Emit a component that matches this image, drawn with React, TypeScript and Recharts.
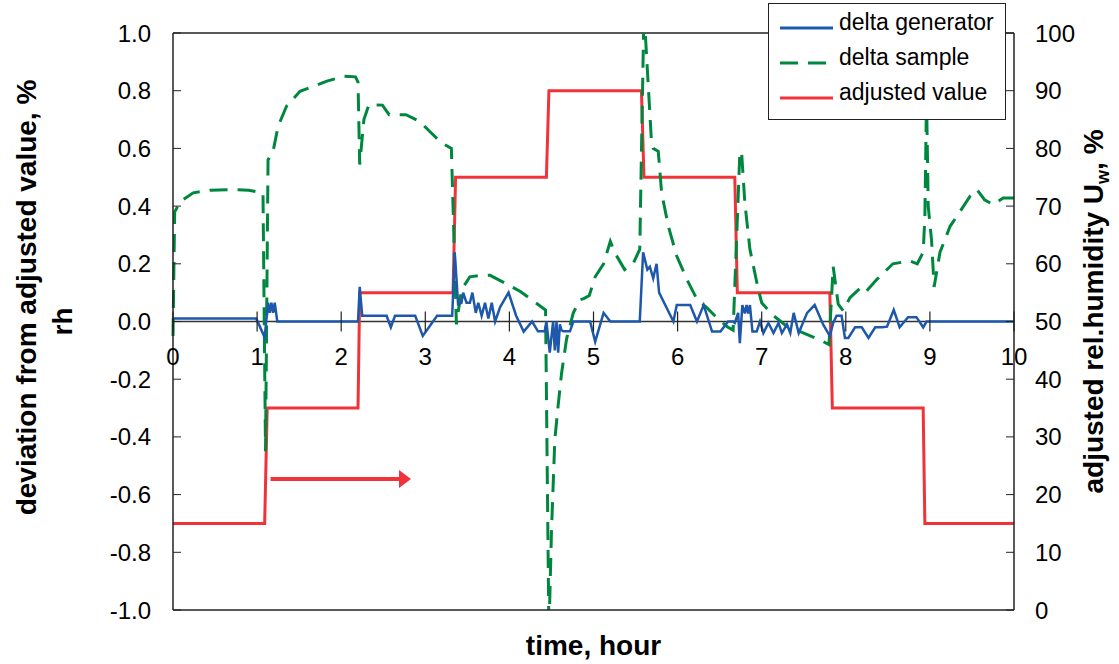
import {
  LineChart,
  Line,
  XAxis,
  YAxis,
  ReferenceLine,
  ReferenceDot,
  Legend,
} from 'recharts';

const FONT = '"Liberation Sans", Arial, Helvetica, sans-serif';

const BLUE = '#1d58aa';
const GREEN = '#00873e';
const RED = '#ef3338';
const AXIS = '#222';

// delta generator (left axis, % rh)
const generatorTime = [
  0, 0.99, 1.09, 1.13, 1.15, 1.17, 1.19, 1.21, 1.24, 2.2, 2.22, 2.25, 2.54, 2.59, 2.64, 2.88,
  2.97, 3.14, 3.32, 3.35, 3.39, 3.43, 3.45, 3.49, 3.53, 3.56, 3.6, 3.63, 3.67, 3.71, 3.75, 3.79,
  3.83, 3.89, 3.99, 4.08, 4.17, 4.27, 4.34, 4.42, 4.44, 4.48, 4.52, 4.54, 4.56, 4.58, 4.6, 4.62,
  4.64, 4.72, 4.76, 4.96, 5.02, 5.12, 5.2, 5.55, 5.59, 5.64, 5.67, 5.71, 5.75, 5.78, 5.95, 5.99,
  6.15, 6.23, 6.31, 6.41, 6.51, 6.6, 6.66, 6.68, 6.72, 6.74, 6.77, 6.8, 6.82, 6.84, 6.86, 6.89,
  6.94, 6.98, 7.02, 7.08, 7.14, 7.2, 7.24, 7.3, 7.34, 7.38, 7.44, 7.54, 7.63, 7.73, 7.81, 7.85,
  7.89, 7.95, 7.99, 8.03, 8.11, 8.19, 8.27, 8.35, 8.43, 8.49, 8.57, 8.64, 8.74, 8.84, 8.92, 8.96,
  10,
];
const generatorDelta = [
  0.01, 0.01, -0.055, 0.065, 0.03, 0.065, 0.03, 0.065, 0, 0, 0.12, 0.02, 0.02, -0.02, 0.02, 0.02,
  -0.05, 0.02, 0.02, 0.24, 0.06, 0.065, 0.1, 0.065, 0.065, 0.1, 0.03, 0.065, 0.02, 0.065, 0.01, 0.065,
  0, 0.05, 0.1, 0.02, -0.035, 0, -0.034, -0.034, 0, -0.108, 0, -0.1, 0, -0.108, -0.01, -0.03,
  -0.034, -0.034, 0, 0, -0.07, 0.03, 0, 0, 0.24, 0.18, 0.19, 0.15, 0.2, 0.1, 0, 0.057,
  0.057, 0, 0.057, -0.035, -0.035, 0, 0, -0.005, 0.03, -0.075, 0.057, 0.028, 0.057, 0.028, 0.057, -0.035,
  -0.035, 0, -0.04, -0.005, -0.04, -0.005, -0.04, -0.01, -0.04, 0.03, -0.04, 0.03, 0.057, -0.01, -0.05, -0.005,
  0.02, 0.02, -0.057, -0.057, -0.02, -0.02, -0.057, -0.02, -0.02, -0.018, 0.04, -0.02, 0.015, 0.015, -0.02, 0,
  0,
];

// delta sample (left axis, % rh)
const sampleTime = [
  0, 0.02, 0.09, 0.24, 0.44, 0.72, 0.9, 1.07, 1.1, 1.13, 1.19, 1.25, 1.35, 1.51, 1.67, 1.83,
  2.03, 2.17, 2.2, 2.22, 2.27, 2.33, 2.49, 2.57, 2.77, 2.93, 3.09, 3.19, 3.31, 3.37, 3.43, 3.53,
  3.65, 3.77, 3.97, 4.13, 4.29, 4.43, 4.47, 4.5, 4.54, 4.58, 4.62, 4.68, 4.76, 4.84, 4.89, 4.95,
  5.02, 5.12, 5.2, 5.25, 5.37, 5.47, 5.55, 5.6, 5.69, 5.71, 5.77, 5.81, 5.89, 5.99, 6.11, 6.23,
  6.35, 6.47, 6.59, 6.66, 6.68, 6.74, 6.76, 6.8, 6.86, 6.96, 7.0, 7.12, 7.3, 7.5, 7.7, 7.8,
  7.85, 7.91, 7.97, 8.05, 8.17, 8.23, 8.37, 8.56, 8.76, 8.85, 8.92, 8.94, 8.96, 8.98, 9.02, 9.05,
  9.12, 9.24, 9.36, 9.48, 9.56, 9.65, 9.75, 9.87, 10,
];
const sampleDelta = [
  -0.05, 0.38, 0.417, 0.446, 0.455, 0.457, 0.455, 0.446, -0.45, 0.56, 0.59, 0.677, 0.746, 0.798, 0.815, 0.833,
  0.85, 0.848, 0.83, 0.544, 0.7, 0.752, 0.75, 0.717, 0.717, 0.694, 0.648, 0.62, 0.6, -0.01, 0.11, 0.155,
  0.16, 0.16, 0.13, 0.104, 0.07, 0.04, -1.08, -0.73, -0.41, -0.29, -0.18, -0.06, 0.03, 0.075, 0.08, 0.09,
  0.155, 0.2, 0.278, 0.24, 0.18, 0.2, 0.25, 1.08, 0.62, 0.6, 0.59, 0.446, 0.33, 0.227, 0.146, 0.077,
  0.047, 0.012, -0.018, -0.03, 0.12, 0.585, 0.59, 0.41, 0.25, 0.11, 0.065, 0.025, -0.017, -0.04, -0.065, -0.08,
  0.19, 0.06, 0.037, 0.083, 0.115, 0.1, 0.146, 0.2, 0.21, 0.2, 0.24, 0.36, 0.78, 0.4, 0.28, 0.12,
  0.24, 0.33, 0.382, 0.435, 0.457, 0.422, 0.405, 0.428, 0.428,
];

// adjusted value (right axis, % rh)
const adjustedTime = [
  0, 1.09, 1.12, 2.2, 2.22, 3.33, 3.36, 4.44, 4.47, 5.57, 5.6, 6.68, 6.71, 7.81, 7.84, 8.92, 8.94, 10,
];
const adjustedValue = [15, 15, 35, 35, 55, 55, 75, 75, 90, 90, 75, 75, 55, 55, 35, 35, 15, 15];

const hourTicks = [0, 1, 2, 3, 4, 5, 6, 7, 8, 9, 10];
const deviationTicks = [-1, -0.8, -0.6, -0.4, -0.2, 0, 0.2, 0.4, 0.6, 0.8, 1];
const humidityTicks = [0, 10, 20, 30, 40, 50, 60, 70, 80, 90, 100];

// arrow pointing to the right axis
const arrowHours = [1.16, 2.83];
const arrowHumidity = 22.7;

const legendItems = [
  { name: 'delta generator', color: BLUE, dash: undefined },
  { name: 'delta sample', color: GREEN, dash: '18 10' },
  { name: 'adjusted value', color: RED, dash: undefined },
];

const zip = (ts: number[], vs: number[]) => ts.map((t, i) => ({ t, v: vs[i] }));

function LeftTitle(props: any) {
  const vb = props.viewBox;
  const cy = vb.y + vb.height / 2;
  const x1 = vb.x + 36;
  const x2 = vb.x + 72;
  return (
    <g fontFamily={FONT} fontSize={28} fontWeight="bold" fill="#000">
      <text x={x1} y={cy - 24} textAnchor="middle" transform={`rotate(-90 ${x1} ${cy - 24})`}>
        deviation from adjusted value, %
      </text>
      <text x={x2} y={cy} textAnchor="middle" transform={`rotate(-90 ${x2} ${cy})`}>
        rh
      </text>
    </g>
  );
}

function RightTitle(props: any) {
  const vb = props.viewBox;
  const cy = vb.y + vb.height / 2 - 10;
  const x = vb.x + 89;
  return (
    <text
      x={x}
      y={cy}
      textAnchor="middle"
      transform={`rotate(-90 ${x} ${cy})`}
      fontFamily={FONT}
      fontSize={28}
      fontWeight="bold"
      fill="#000"
    >
      adjusted rel.humidity U
      <tspan fontSize={18} dy={6}>w</tspan>
      <tspan dy={-6}>, %</tspan>
    </text>
  );
}

function BottomTitle(props: any) {
  const vb = props.viewBox;
  return (
    <text
      x={vb.x + vb.width / 2}
      y={vb.y + 45}
      textAnchor="middle"
      fontFamily={FONT}
      fontSize={28}
      fontWeight="bold"
      fill="#000"
    >
      time, hour
    </text>
  );
}

function HourTick({ cx, cy, label }: any) {
  if (cx == null || cy == null) return null;
  return (
    <g>
      <line x1={cx} x2={cx} y1={cy - 10} y2={cy + 10} stroke={AXIS} strokeWidth={1.2} />
      <text x={cx} y={cy + 43} textAnchor="middle" fontFamily={FONT} fontSize={24} fill="#000">
        {label}
      </text>
    </g>
  );
}

function Arrow(props: any) {
  const { x1, y1, x2 } = props;
  if (x1 == null) return null;
  return (
    <g>
      <line x1={x1} x2={x2 - 10} y1={y1} y2={y1} stroke={RED} strokeWidth={4} />
      <polygon points={`${x2 - 12},${y1 - 9} ${x2},${y1} ${x2 - 12},${y1 + 9}`} fill={RED} />
    </g>
  );
}

function LegendBox() {
  return (
    <svg width={238} height={117} style={{ display: 'block' }}>
      <rect x={0.5} y={0.5} width={237} height={116} fill="#fff" stroke={AXIS} />
      {legendItems.map((s, i) => (
        <g key={s.name}>
          <line
            x1={12}
            x2={65}
            y1={25 + i * 35}
            y2={25 + i * 35}
            stroke={s.color}
            strokeWidth={3}
            strokeDasharray={s.dash}
          />
          <text x={71} y={27 + i * 35} fontFamily={FONT} fontSize={23} fill="#000">
            {s.name}
          </text>
        </g>
      ))}
    </svg>
  );
}

export default function App() {
  const generator = zip(generatorTime, generatorDelta);
  const sample = zip(sampleTime, sampleDelta);
  const adjusted = zip(adjustedTime, adjustedValue);

  return (
    <div style={{ position: 'absolute', left: 0, top: 0, background: '#fff' }}>
      <LineChart width={1119} height={664} margin={{ top: 33, right: 0, bottom: 0, left: 0 }}>
        <XAxis
          dataKey="t"
          type="number"
          domain={[0, 10]}
          ticks={hourTicks}
          tick={false}
          tickLine={false}
          axisLine={{ stroke: AXIS, strokeWidth: 1.5 }}
          height={54}
          label={(p: any) => <BottomTitle {...p} />}
        />
        <YAxis
          yAxisId="left"
          orientation="left"
          width={173}
          domain={[-1, 1]}
          allowDataOverflow
          ticks={deviationTicks}
          interval={0}
          tickFormatter={(v: number) => v.toFixed(1)}
          tickSize={-8}
          tickMargin={30}
          tick={{ fontSize: 24, fill: '#000', fontFamily: FONT }}
          tickLine={{ stroke: AXIS }}
          axisLine={{ stroke: AXIS, strokeWidth: 1.5 }}
          label={(p: any) => <LeftTitle {...p} />}
        />
        <YAxis
          yAxisId="right"
          orientation="right"
          width={105}
          domain={[0, 100]}
          ticks={humidityTicks}
          interval={0}
          tickSize={-8}
          tickMargin={29}
          tick={{ fontSize: 24, fill: '#000', fontFamily: FONT }}
          tickLine={{ stroke: AXIS }}
          axisLine={{ stroke: AXIS, strokeWidth: 1.5 }}
          label={(p: any) => <RightTitle {...p} />}
        />
        <ReferenceLine yAxisId="left" y={1} stroke={AXIS} strokeWidth={1.5} />
        <ReferenceLine yAxisId="left" y={0} stroke="#333" strokeWidth={1.5} />
        {hourTicks.map((h) => (
          <ReferenceDot
            key={h}
            yAxisId="left"
            x={h}
            y={0}
            r={0}
            ifOverflow="visible"
            shape={(p: any) => <HourTick {...p} label={h} />}
          />
        ))}
        <ReferenceLine
          yAxisId="right"
          segment={[
            { x: arrowHours[0], y: arrowHumidity },
            { x: arrowHours[1], y: arrowHumidity },
          ]}
          ifOverflow="visible"
          shape={(p: any) => <Arrow {...p} />}
        />
        <Line
          yAxisId="right"
          data={adjusted}
          dataKey="v"
          name="adjusted value"
          type="linear"
          stroke={RED}
          strokeWidth={3}
          dot={false}
          isAnimationActive={false}
        />
        <Line
          yAxisId="left"
          data={sample}
          dataKey="v"
          name="delta sample"
          type="linear"
          stroke={GREEN}
          strokeWidth={3}
          strokeDasharray="18 10"
          dot={false}
          isAnimationActive={false}
        />
        <Line
          yAxisId="left"
          data={generator}
          dataKey="v"
          name="delta generator"
          type="linear"
          stroke={BLUE}
          strokeWidth={2.5}
          dot={false}
          isAnimationActive={false}
        />
        <Legend
          layout="vertical"
          align="center"
          verticalAlign="middle"
          wrapperStyle={{ left: 768, top: 3, width: 238, height: 117 }}
          content={() => <LegendBox />}
        />
      </LineChart>
    </div>
  );
}
